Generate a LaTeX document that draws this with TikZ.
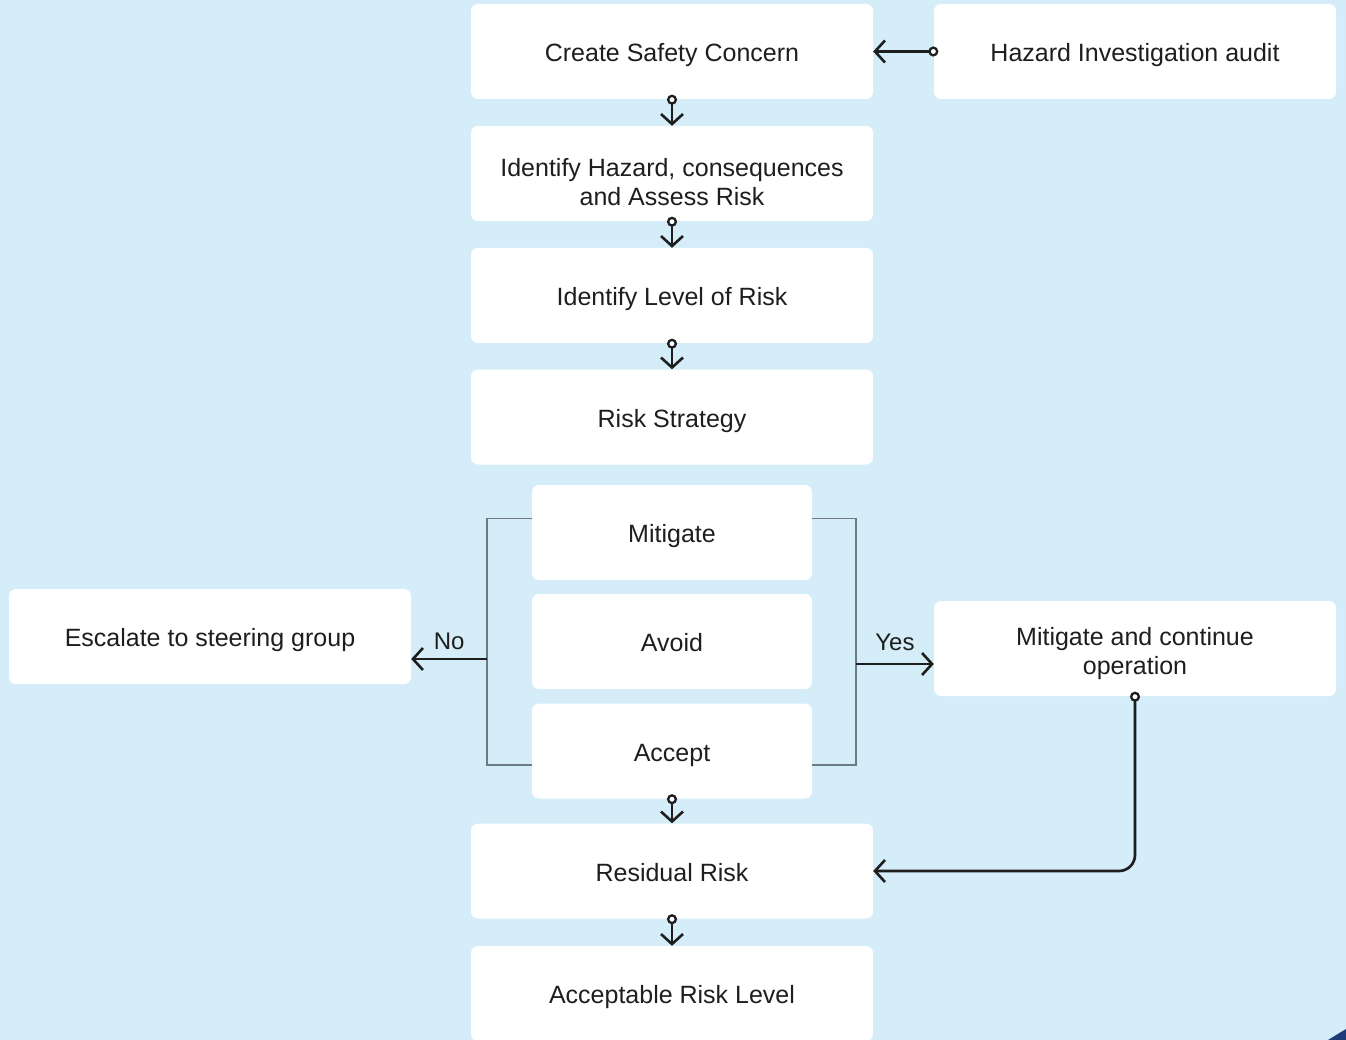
\documentclass[tikz,border=0pt]{standalone}
\usepackage{fontspec}
\setmainfont{Liberation Sans}
\usetikzlibrary{arrows.meta}
\definecolor{bg}{HTML}{D4EDF8}
\definecolor{ink}{HTML}{1E1E1E}
\definecolor{brkc}{HTML}{6E7B80}
\definecolor{navy}{HTML}{1E3C78}
\begin{document}
\begin{tikzpicture}[x=1pt,y=-1pt,
  box/.style={fill=white, rounded corners=7pt, minimum width=402pt, minimum height=95pt,
    inner sep=0pt, align=center, font=\fontsize{25}{29}\selectfont, text=ink,
    text height=22pt, text depth=2pt},
  mbox/.style={fill=white, rounded corners=7pt, minimum width=402pt, minimum height=95pt,
    inner sep=0pt},
  mtxt/.style={inner sep=0pt, align=center, font=\fontsize{25}{29.5}\selectfont, text=ink},
  sbox/.style={box, minimum width=280pt},
  conn/.style={draw=ink, line width=2.7pt, shorten <=-4.5pt,
    {Circle[open,fill=white,length=10pt,width=10pt,line width=2.3pt]}-{Straight Barb[length=10pt,width=22pt,line width=2.6pt]}},
  arr/.style={draw=ink, line width=2.7pt, -{Straight Barb[length=10pt,width=22pt,line width=2.6pt]}},
  brkline/.style={draw=brkc, line width=1.7pt},
  lbl/.style={font=\fontsize{24}{26}\selectfont, text=ink, inner sep=2pt}
]
\fill[bg] (0,0) rectangle (1346,1040);
\useasboundingbox (0,0) rectangle (1346,1040);

\node[box] (create) at (672,51.5) {Create Safety Concern};
\node[box] (haz) at (1135,51.5) {Hazard Investigation audit};
\node[mbox, label={[mtxt, yshift=-8.5pt]center:Identify Hazard, consequences\\and Assess Risk}] (ident) at (672,173.5) {};
\node[box] (level) at (672,295.5) {Identify Level of Risk};
\node[box] (strat) at (672,417) {Risk Strategy};
\node[sbox] (mit) at (672,532.5) {Mitigate};
\node[sbox] (avoid) at (672,641.5) {Avoid};
\node[sbox] (acc) at (672,751) {Accept};
\node[box] (esc) at (210,636.5) {Escalate to steering group};
\node[mbox, label={[mtxt, yshift=-5pt]center:Mitigate and continue\\operation}] (mc) at (1135,648.5) {};
\node[box] (res) at (672,871) {Residual Risk};
\node[box] (acl) at (672,993.5) {Acceptable Risk Level};

\draw[conn] (haz.west) -- (create.east);
\draw[conn] (create.south) -- (ident.north);
\draw[conn] (ident.south) -- (level.north);
\draw[conn] (level.south) -- (strat.north);
\draw[conn] (acc.south) -- (res.north);
\draw[conn] (res.south) -- (acl.north);

\coordinate (lb) at (487,659);
\coordinate (rb) at (856,664);
\draw[brkline] ([yshift=14pt]mit.west) -| (lb) |- ([yshift=-14pt]acc.west);
\draw[brkline] ([yshift=14pt]mit.east) -| (rb) |- ([yshift=-14pt]acc.east);
\draw[arr] (lb) -- (lb -| esc.east) node[midway, above=6pt, lbl] {No};
\draw[arr] (rb) -- (rb -| mc.west) node[midway, above=10pt, lbl] {Yes};

\draw[conn, rounded corners=16pt] (mc.south) |- (res.east);

\fill[navy] (1328,1040) -- (1346,1029) -- (1346,1040) -- cycle;
\end{tikzpicture}
\end{document}
